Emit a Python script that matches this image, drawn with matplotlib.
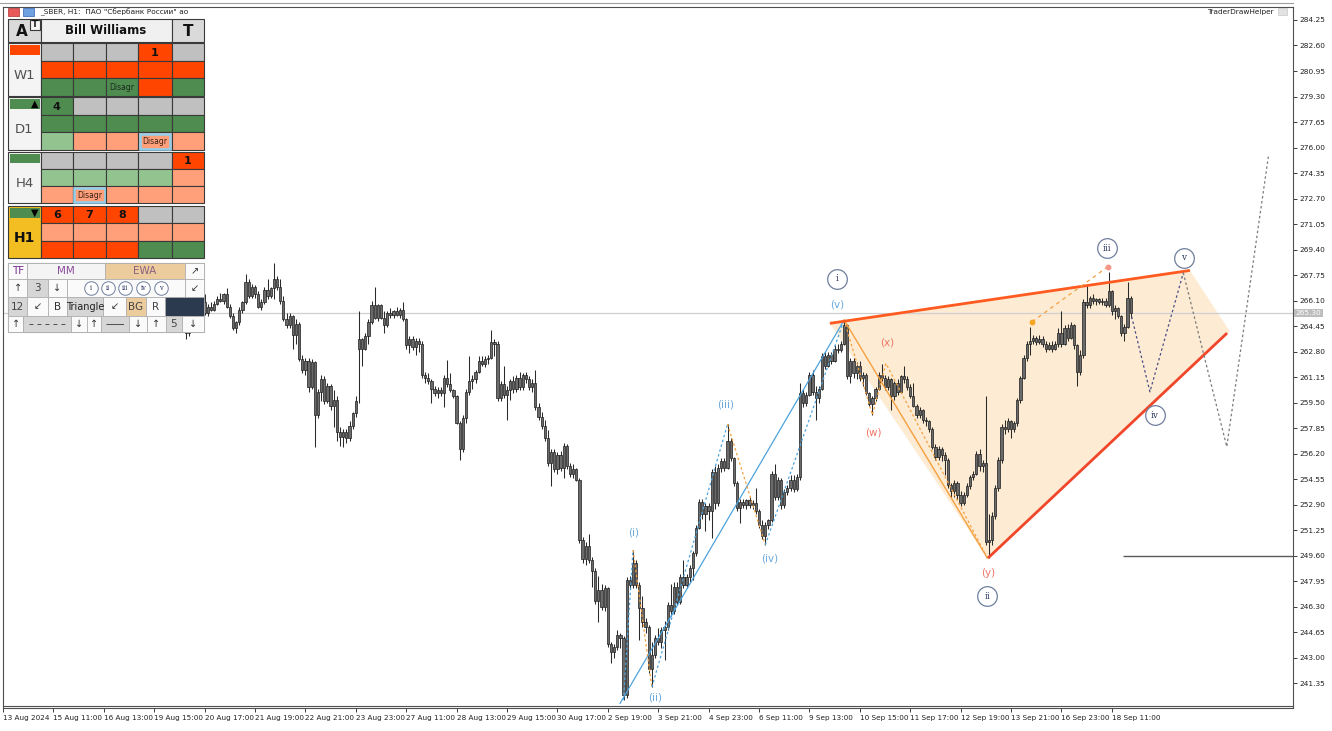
import numpy as np
import matplotlib
matplotlib.use("Agg")
import matplotlib.pyplot as plt
from matplotlib.patches import Rectangle, Polygon
import matplotlib.transforms as mtransforms

plt.rcParams['font.family'] = ['DejaVu Sans']

# ---------------- data ----------------
first_bar = 58  # bar index of first listed candle (bar 0 = 13 Aug 2024 23:00)

opens = [
    264.3, 264.0, 264.6, 265.3, 265.8, 265.6, 266.0, 265.3, 265.7, 265.5,
    265.9, 266.2, 266.1, 266.5, 265.7, 265.1, 264.3, 264.7, 265.5, 266.0,
    267.3, 266.4, 267.0, 266.5, 265.7, 266.0, 266.8, 266.4, 266.9, 267.5,
    267.0, 266.1, 264.9, 264.5, 265.1, 263.9, 264.6, 262.3, 261.6, 262.2,
    260.5, 262.1, 258.7, 260.2, 261.0, 259.6, 260.6, 259.3, 259.7, 257.6,
    257.3, 257.6, 257.2, 258.0, 258.8, 263.0, 263.6, 263.0, 263.8, 264.7,
    265.8, 265.0, 265.8, 265.0, 264.5, 265.3, 265.2, 265.4, 265.2, 265.5,
    264.9, 263.2, 263.6, 263.1, 263.5, 263.3, 261.3, 261.1, 260.9, 260.4,
    260.1, 260.3, 260.1, 261.1, 260.7, 260.3, 259.9, 258.2, 256.5, 258.5,
    260.2, 260.9, 261.0, 261.5, 262.2, 262.0, 262.3, 262.4, 263.4, 263.3,
    259.8, 260.7, 260.0, 260.3, 260.9, 260.4, 261.1, 260.5, 261.3, 261.0,
    260.5, 260.8, 259.2, 258.6, 258.0, 257.2, 255.6, 256.3, 255.2, 256.1,
    255.3, 256.7, 255.4, 254.9, 255.2, 254.5, 250.6, 249.4, 250.2, 249.3,
    248.6, 246.7, 247.4, 246.3, 247.5, 243.9, 243.4, 243.7, 244.5, 244.3,
    240.6, 248.0, 247.7, 249.1, 247.7, 246.2, 245.3, 245.0, 242.3, 243.2,
    244.3, 244.0, 244.8, 245.0, 246.4, 246.0, 247.6, 246.6, 248.2, 247.7,
    248.2, 248.8, 249.8, 251.4, 253.1, 252.3, 252.8, 252.5, 255.0, 253.0,
    255.3, 255.7, 255.3, 257.0, 255.9, 254.3, 252.7, 253.1, 252.9, 253.2,
    252.9, 253.0, 252.5, 251.6, 250.9, 251.6, 251.9, 254.9, 253.4, 254.5,
    252.9, 253.7, 254.0, 254.5, 253.9, 254.7, 260.1, 259.5, 260.0, 261.3,
    260.2, 259.8, 260.4, 262.5, 261.9, 262.6, 262.2, 263.0, 262.9, 263.3,
    264.5, 261.2, 262.2, 261.4, 261.9, 261.1, 261.3, 260.1, 259.4, 259.8,
    260.4, 261.3, 261.1, 260.5, 261.0, 259.9, 260.8, 260.2, 261.2, 261.0,
    260.5, 259.9, 259.3, 258.7, 259.0, 258.4, 258.3, 257.8, 256.6, 256.0,
    256.5, 256.1, 255.8, 254.2, 253.8, 254.3, 253.5, 253.0, 253.5, 254.1,
    254.7, 254.9, 256.2, 255.4, 255.6, 250.5, 250.6, 252.2, 254.0, 255.8,
    257.9, 257.8, 258.3, 257.8, 258.2, 259.7, 261.1, 262.4, 263.3, 263.5,
    263.7, 263.4, 263.6, 263.3, 263.0, 263.2, 263.0, 263.3, 264.0, 263.3,
    264.3, 263.7, 264.5, 263.2, 261.5, 262.6, 266.0, 265.8, 266.3, 266.1,
    266.2, 266.0, 266.1, 265.8, 266.7, 265.4, 265.6, 265.1, 264.0, 264.4, 266.3,
]
highs = [
    264.9, 264.8, 265.6, 266.0, 266.3, 266.2, 266.5, 265.9, 266.0, 266.1,
    266.4, 266.6, 266.6, 266.9, 265.9, 265.3, 264.8, 265.7, 266.1, 267.8,
    267.5, 267.2, 267.1, 266.7, 266.2, 267.0, 267.5, 267.0, 268.5, 267.7,
    267.5, 266.4, 265.3, 265.3, 265.2, 264.9, 264.7, 262.6, 262.4, 262.4,
    262.3, 262.2, 260.4, 261.3, 261.2, 260.8, 260.7, 260.3, 259.9, 257.9,
    257.8, 257.8, 258.3, 258.9, 259.95, 265.4, 263.7, 264.0, 264.9, 266.1,
    266.95, 265.9, 265.9, 265.4, 265.4, 265.6, 265.5, 265.7, 265.6, 266.03,
    265.0, 263.8, 263.8, 263.7, 263.7, 263.5, 261.5, 261.4, 261.0, 260.6,
    260.5, 260.5, 261.3, 262.25, 261.4, 260.4, 260.0, 258.3, 258.7, 260.4,
    262.5, 261.3, 261.6, 262.5, 262.5, 262.5, 262.6, 264.2, 263.6, 263.5,
    260.9, 261.9, 260.6, 261.0, 261.2, 261.3, 261.5, 261.4, 261.5, 261.2,
    261.0, 261.6, 259.5, 258.9, 258.4, 257.7, 256.5, 256.5, 256.3, 256.4,
    256.9, 256.8, 255.6, 255.5, 255.3, 254.6, 250.8, 250.5, 251.0, 249.5,
    248.8, 248.3, 247.8, 247.7, 247.6, 244.0, 243.9, 244.8, 244.6, 244.4,
    248.2, 248.3, 249.97, 249.3, 247.9, 247.0, 245.6, 245.1, 244.0, 244.5,
    244.9, 245.0, 245.4, 246.6, 247.8, 247.9, 247.9, 248.4, 249.3, 248.4,
    249.0, 249.9, 251.6, 253.3, 253.3, 253.0, 253.0, 255.2, 255.4, 255.5,
    255.9, 255.9, 258.1, 257.2, 256.0, 254.4, 253.3, 253.3, 253.3, 253.4,
    253.2, 254.0, 252.6, 251.9, 251.8, 252.0, 255.1, 255.5, 254.7, 254.6,
    253.9, 254.2, 254.8, 254.8, 254.9, 260.75, 260.4, 260.2, 261.5, 261.6,
    260.6, 260.6, 262.7, 262.8, 262.8, 262.8, 263.2, 263.3, 263.5, 264.85,
    264.6, 262.4, 262.4, 262.1, 262.2, 261.5, 261.4, 260.2, 259.9, 260.5,
    261.5, 262.0, 261.3, 261.2, 261.1, 260.9, 261.0, 261.3, 261.9, 261.2,
    260.7, 260.8, 259.4, 259.2, 259.1, 258.6, 258.4, 257.9, 256.8, 256.7,
    256.6, 256.3, 255.9, 254.3, 254.5, 254.4, 253.8, 253.7, 254.3, 254.8,
    255.1, 256.4, 256.5, 255.8, 259.9, 252.3, 252.4, 254.2, 256.0, 258.1,
    258.4, 258.5, 258.4, 258.3, 259.8, 261.2, 262.6, 263.5, 264.4, 263.9,
    263.8, 263.9, 263.8, 263.5, 263.4, 263.5, 263.5, 264.3, 265.4, 264.5,
    264.6, 264.7, 264.6, 263.3, 262.9, 266.2, 267.1, 266.4, 266.5, 266.3,
    266.3, 266.3, 266.3, 267.97, 266.8, 265.8, 265.7, 265.2, 264.6, 267.3, 266.4,
]
lows = [
    263.6, 263.8, 264.4, 265.0, 265.4, 265.2, 265.2, 265.1, 265.4, 265.4,
    265.8, 266.0, 265.9, 265.6, 265.0, 264.2, 264.0, 264.5, 265.3, 265.9,
    266.3, 266.3, 266.3, 265.6, 265.5, 265.9, 266.2, 266.3, 266.2, 266.8,
    265.9, 264.8, 264.3, 264.3, 263.0, 263.3, 262.2, 261.4, 261.3, 260.2,
    260.4, 256.6, 258.5, 259.6, 259.4, 259.5, 259.0, 257.9, 257.0, 256.7,
    256.65, 256.9, 257.0, 257.8, 258.6, 259.5, 261.85, 262.9, 263.3, 264.6,
    264.9, 264.8, 264.9, 264.0, 264.4, 265.0, 265.0, 265.1, 265.0, 264.8,
    263.0, 262.7, 262.9, 262.6, 262.8, 261.1, 260.8, 260.7, 259.5, 259.9,
    259.8, 259.9, 259.2, 260.5, 260.2, 259.8, 258.1, 255.8, 256.3, 258.2,
    260.0, 260.4, 260.8, 261.4, 261.9, 261.8, 262.0, 262.3, 262.5, 259.6,
    259.6, 259.8, 258.4, 259.7, 260.1, 260.2, 260.3, 260.3, 260.8, 260.3,
    260.2, 259.0, 258.4, 257.8, 257.0, 255.4, 254.1, 255.0, 254.9, 255.1,
    254.6, 255.2, 254.7, 254.6, 254.4, 250.4, 249.1, 249.0, 249.1, 247.6,
    246.5, 245.3, 246.1, 246.0, 243.7, 242.65, 243.0, 243.5, 243.6, 240.27,
    240.4, 247.5, 247.5, 247.5, 244.15, 245.0, 244.6, 242.0, 241.1, 243.0,
    243.8, 243.6, 242.85, 244.8, 245.7, 245.8, 246.4, 246.5, 247.5, 247.5,
    247.9, 248.0, 249.6, 251.3, 252.0, 251.2, 251.9, 250.75, 252.6, 252.8,
    255.0, 255.1, 255.2, 255.7, 254.1, 252.5, 251.7, 252.7, 252.6, 252.7,
    252.6, 252.3, 251.4, 250.7, 250.3, 251.3, 251.8, 253.2, 253.2, 252.6,
    252.7, 253.5, 253.8, 253.7, 253.8, 254.5, 259.2, 259.3, 259.9, 260.0,
    258.4, 259.5, 260.3, 261.7, 261.8, 262.0, 262.1, 262.7, 262.8, 263.2,
    261.0, 260.8, 261.1, 261.0, 260.9, 260.6, 260.0, 259.3, 258.7, 259.6,
    260.3, 260.9, 260.3, 260.3, 259.0, 259.7, 260.0, 260.1, 260.8, 260.3,
    259.8, 259.2, 258.5, 258.5, 258.2, 258.0, 257.6, 256.5, 255.8, 255.8,
    255.7, 254.8, 254.0, 253.4, 253.4, 253.3, 252.8, 252.9, 253.4, 253.9,
    254.5, 254.8, 255.1, 255.0, 250.3, 249.45, 250.3, 252.0, 253.8, 255.6,
    257.5, 257.6, 257.2, 257.6, 258.0, 259.5, 261.0, 262.2, 262.6, 263.3,
    263.2, 263.3, 263.1, 262.8, 262.9, 262.8, 262.9, 263.1, 263.1, 263.2,
    263.5, 263.6, 263.0, 260.6, 261.3, 262.4, 265.6, 265.6, 265.9, 265.8,
    265.9, 265.8, 265.7, 265.7, 265.2, 264.9, 265.0, 263.8, 263.5, 264.3, 265.0,
]
closes = [
    264.0, 264.6, 265.3, 265.8, 265.6, 266.0, 265.3, 265.7, 265.5, 265.9,
    266.2, 266.1, 266.5, 265.7, 265.1, 264.3, 264.7, 265.5, 266.0, 267.3,
    266.4, 267.0, 266.5, 265.7, 266.0, 266.8, 266.4, 266.9, 267.5, 267.0,
    266.1, 264.9, 264.5, 265.1, 263.9, 264.6, 262.3, 261.6, 262.2, 260.5,
    262.1, 258.7, 260.2, 261.0, 259.6, 260.6, 259.3, 259.7, 257.6, 257.3,
    257.6, 257.2, 258.0, 258.8, 259.6, 263.6, 263.0, 263.8, 264.7, 265.8,
    265.0, 265.8, 265.0, 264.5, 265.3, 265.2, 265.4, 265.2, 265.5, 264.9,
    263.2, 263.6, 263.1, 263.5, 263.3, 261.3, 261.1, 260.9, 260.4, 260.1,
    260.3, 260.1, 261.1, 260.7, 260.3, 259.9, 258.2, 256.5, 258.5, 260.2,
    260.9, 261.0, 261.5, 262.2, 262.0, 262.3, 262.4, 263.4, 263.3, 259.8,
    260.7, 260.0, 260.3, 260.9, 260.4, 261.1, 260.5, 261.3, 261.0, 260.5,
    260.8, 259.2, 258.6, 258.0, 257.2, 255.6, 256.3, 255.2, 256.1, 255.3,
    256.7, 255.4, 254.9, 255.2, 254.5, 250.6, 249.4, 250.2, 249.3, 248.6,
    246.7, 247.4, 246.3, 247.5, 243.9, 243.4, 243.7, 244.5, 244.3, 240.6,
    248.0, 247.7, 249.1, 247.7, 246.2, 245.3, 245.0, 242.3, 243.2, 244.3,
    244.0, 244.8, 245.0, 246.4, 246.0, 247.6, 246.6, 248.2, 247.7, 248.2,
    248.8, 249.8, 251.4, 253.1, 252.3, 252.8, 252.5, 255.0, 253.0, 255.3,
    255.7, 255.3, 257.0, 255.9, 254.3, 252.7, 253.1, 252.9, 253.2, 252.9,
    253.0, 252.5, 251.6, 250.9, 251.6, 251.9, 254.9, 253.4, 254.5, 252.9,
    253.7, 254.0, 254.5, 253.9, 254.7, 260.1, 259.5, 260.0, 261.3, 260.2,
    259.8, 260.4, 262.5, 261.9, 262.6, 262.2, 263.0, 262.9, 263.3, 264.5,
    261.2, 262.2, 261.4, 261.9, 261.1, 261.3, 260.1, 259.4, 259.8, 260.4,
    261.3, 261.1, 260.5, 261.0, 259.9, 260.8, 260.2, 261.2, 261.0, 260.5,
    259.9, 259.3, 258.7, 259.0, 258.4, 258.3, 257.8, 256.6, 256.0, 256.5,
    256.1, 255.8, 254.2, 253.8, 254.3, 253.5, 253.0, 253.5, 254.1, 254.7,
    254.9, 256.2, 255.4, 255.6, 250.5, 250.6, 252.2, 254.0, 255.8, 257.9,
    257.8, 258.3, 257.8, 258.2, 259.7, 261.1, 262.4, 263.3, 263.5, 263.7,
    263.4, 263.6, 263.3, 263.0, 263.2, 263.0, 263.3, 264.0, 263.3, 264.3,
    263.7, 264.5, 263.2, 261.5, 262.6, 266.0, 265.8, 266.3, 266.1, 266.2,
    266.0, 266.1, 265.8, 266.7, 265.4, 265.6, 265.1, 264.0, 264.4, 266.3, 265.3,
]

# x-axis labels every 16 hourly bars
xtick_labels = ["13 Aug 2024", "15 Aug 11:00", "16 Aug 13:00", "19 Aug 15:00", "20 Aug 17:00",
                "21 Aug 19:00", "22 Aug 21:00", "23 Aug 23:00", "27 Aug 11:00", "28 Aug 13:00",
                "29 Aug 15:00", "30 Aug 17:00", "2 Sep 19:00", "3 Sep 21:00", "4 Sep 23:00",
                "6 Sep 11:00", "9 Sep 13:00", "10 Sep 15:00", "11 Sep 17:00", "12 Sep 19:00",
                "13 Sep 21:00", "16 Sep 23:00", "18 Sep 11:00"]
ytick_values = [284.25, 282.60, 280.95, 279.30, 277.65, 276.00, 274.35, 272.70, 271.05,
                269.40, 267.75, 266.10, 264.45, 262.80, 261.15, 259.50, 257.85, 256.20,
                254.55, 252.90, 251.25, 249.60, 247.95, 246.30, 244.65, 243.00, 241.35]
current_price = 265.30
level_line = 249.60

# wave pivots (bar index, price)
minor_x = [197, 200, 206, 230, 242, 267]
minor_y = [240.27, 249.97, 241.1, 258.1, 250.3, 264.85]
minor_names = ["(i)", "(ii)", "(iii)", "(iv)", "(v)"]
wxy_x = [267, 276, 280.3, 312.5]
wxy_y = [264.85, 258.7, 262.04, 249.45]
wxy_names = ["(w)", "(x)", "(y)"]
base_x = [195.9, 266.9]
base_y = [240.05, 264.8]
tri_x = [262.5, 376.8, 389.5, 312.5]
tri_y = [264.63, 268.05, 264.1, 249.45]
upper_x = [262.5, 376.8]
upper_y = [264.63, 268.05]
lower_x = [312.7, 388.6]
lower_y = [249.45, 264.0]
iii_x = [326.7, 350.8]
iii_y = [264.73, 268.3]
proj1_x = [358.3, 364.1, 374.7]
proj1_y = [265.06, 260.2, 267.9]
proj2_x = [374.7, 388.5, 401.7]
proj2_y = [267.9, 256.65, 275.41]
major_names = ["i", "ii", "iii", "iv", "v"]
major_lab_x = [264.8, 312.4, 350.5, 365.7, 374.9]
major_lab_y = [267.5, 246.99, 269.5, 258.7, 268.86]

# ---------------- figure ----------------
W, H = 1332, 731
fig = plt.figure(figsize=(W / 100, H / 100), dpi=100)
fig.patch.set_facecolor('white')
L_PX, R_PX, T_PX, B_PX = 3, 1293, 7, 708
ax = fig.add_axes([L_PX / W, 1 - B_PX / H, (R_PX - L_PX) / W, (B_PX - T_PX) / H])
ax.set_xlim(0, (R_PX - L_PX) / 3.15)
ax.set_ylim(239.75, 285.09)

# triangle fill
ax.add_patch(Polygon(list(zip(tri_x, tri_y)), closed=True, fc='#FDEBD3', ec='none', zorder=1))

# price lines
ax.axhline(current_price, color='#CFCFCF', lw=0.9, zorder=2)
ax.hlines(level_line, 355.6, 420, color='#5A5A5A', lw=1.0, zorder=2)

# candles
idx = np.arange(first_bar, first_bar + len(closes))
o = np.array(opens); h = np.array(highs); l = np.array(lows); c = np.array(closes)
ax.vlines(idx, l, h, color='#2a2a2a', lw=0.75, zorder=3)
bot = np.minimum(o, c)
hgt = np.maximum(np.abs(c - o), 0.06)
ax.bar(idx, hgt, bottom=bot, width=0.72, color='#6a6a6a', edgecolor='#1c1c1c', lw=0.5, zorder=4)

# wave lines
BLUE = '#4DA3DD'
ORANGE = '#F5A040'
ax.plot(base_x, base_y, color=BLUE, lw=0.9, zorder=5)
for k in range(5):
    col = BLUE if k % 2 == 0 else ORANGE
    ax.plot(minor_x[k:k + 2], minor_y[k:k + 2], color=col, lw=0.9, ls=(0, (2, 2)), zorder=5)
ax.plot(wxy_x, wxy_y, color=ORANGE, lw=0.9, ls=(0, (2, 2)), zorder=5)
ax.plot([wxy_x[0], wxy_x[-1]], [wxy_y[0], wxy_y[-1]], color=ORANGE, lw=1.0, zorder=5)
ax.plot(upper_x, upper_y, color='#FF5A1F', lw=2.0, zorder=5, solid_capstyle='butt')
ax.plot(lower_x, lower_y, color='#F0462A', lw=2.0, zorder=5, solid_capstyle='butt')
ax.plot(iii_x, iii_y, color=ORANGE, lw=0.9, ls=(0, (3, 3)), zorder=5)
ax.plot(iii_x[0], iii_y[0], 'o', ms=3.2, color='#F5A623', zorder=6)
ax.plot(iii_x[1], iii_y[1], 'o', ms=3.2, color='#F5958A', zorder=6)
ax.plot(proj1_x, proj1_y, color='#4A4F86', lw=0.9, ls=(0, (2, 2)), zorder=5)
ax.plot(proj2_x, proj2_y, color='#7A7A7A', lw=0.9, ls=(0, (2, 2)), zorder=5)

# wave labels
minor_lab_x = [200.3, 207.0, 229.5, 243.5, 264.8]
minor_lab_y = [251.07, 240.46, 259.35, 249.45, 265.82]
for s, x, y in zip(minor_names, minor_lab_x, minor_lab_y):
    ax.text(x, y, s, color='#6AA8DC', fontsize=7.5, ha='center', va='center', zorder=7)
wxy_lab_x = [276.2, 280.6, 312.7]
wxy_lab_y = [257.6, 263.36, 248.48]
for s, x, y in zip(wxy_names, wxy_lab_x, wxy_lab_y):
    ax.text(x, y, s, color='#F07566', fontsize=7.5, ha='center', va='center', zorder=7)
ax.scatter(major_lab_x, major_lab_y, s=200, facecolors='white', edgecolors='#6F7F9C', lw=0.9, zorder=7)
for s, x, y in zip(major_names, major_lab_x, major_lab_y):
    ax.text(x, y, s, color='#2E3B63', fontsize=6.5, family='DejaVu Serif', ha='center', va='center', zorder=8)

# axes styling
for sp in ['left', 'top', 'right', 'bottom']:
    ax.spines[sp].set_color('#505050')
    ax.spines[sp].set_linewidth(0.8)
ax.yaxis.tick_right()
ax.set_yticks(ytick_values)
ax.set_yticklabels([f"{v:.2f}" for v in ytick_values])
ax.tick_params(axis='y', direction='out', length=3, width=0.6, labelsize=5.3, pad=1.5, colors='#202020')
ax.set_xticks(np.arange(0, 16 * len(xtick_labels), 16))
ax.set_xticklabels(xtick_labels)
for lbl in ax.get_xticklabels():
    lbl.set_ha('left')
ax.tick_params(axis='x', direction='out', length=3, width=0.6, labelsize=5.2, pad=2, colors='#202020')

trans = mtransforms.blended_transform_factory(ax.transAxes, ax.transData)
ax.text(1.002, current_price, "265.30", transform=trans, fontsize=5.3, color='white', ha='left', va='center',
        bbox=dict(boxstyle='square,pad=0.2', fc='#BDBDBD', ec='none'), zorder=9, clip_on=False)

# ---------------- overlay (pixel coordinates) ----------------
ov = fig.add_axes([0, 0, 1, 1], zorder=10)
ov.set_xlim(0, W)
ov.set_ylim(H, 0)
ov.axis('off')
ov.patch.set_alpha(0)

ov.plot([L_PX, R_PX], [705.5, 705.5], color='#505050', lw=0.8)
ov.plot([0, R_PX], [2.5, 2.5], color='#A0A0A0', lw=0.8)

# title + icons
ov.add_patch(Rectangle((8, 8), 11, 8, fc='#E85A5A', ec='#B03030', lw=0.5))
ov.add_patch(Rectangle((23, 8), 11, 8, fc='#6FA0E0', ec='#3060B0', lw=0.5))
ov.text(40, 12, '_SBER, H1:  ПАО "Сбербанк России" ао', fontsize=5.3, ha='left', va='center', color='#202020')
ov.text(1274, 12, 'TraderDrawHelper', fontsize=5.3, ha='right', va='center', color='#202020')
ov.add_patch(Rectangle((1278, 8), 9, 7, fc='#E2E2E2', ec='#C8C8C8', lw=0.5))

CMAP = {'gray': '#C0C0C0', 'red': '#FF4500', 'green': '#4E8C50', 'lgreen': '#93C48F', 'salmon': '#FFA07A'}
EDGE = '#3A3A3A'
col_edges = [40.7, 72.7, 106.0, 138.3, 171.7, 204.0]


def cell(x0, y0, x1, y1, fc, ec=EDGE, lw=0.8):
    ov.add_patch(Rectangle((x0, y0), x1 - x0, y1 - y0, fc=fc, ec=ec, lw=lw))


def txt(x, y, s, size=7, weight='normal', color='#202020', family=None):
    kw = dict(fontsize=size, fontweight=weight, color=color, ha='center', va='center')
    if family:
        kw['family'] = family
    ov.text(x, y, s, **kw)


# header
cell(8.3, 18.5, 40.7, 41.5, '#DADADA')
txt(22, 31, 'A', 11, 'bold', '#111111')
cell(30, 19.5, 40, 29.5, '#F4F4F4')
txt(35, 24.5, 'T', 6, 'bold', '#111111')
cell(40.7, 18.5, 171.7, 41.5, '#F0F0F0')
txt(106, 31, 'Bill Williams', 8.5, 'bold', '#111111')
cell(171.7, 18.5, 204, 41.5, '#DADADA')
txt(188, 31, 'T', 11, 'bold', '#111111')

blocks = [
    dict(top=43.3, bot=96.0, label='W1', lbg='#F4F4F4', bar='#FF4500', arrow='',
         colors=[['gray', 'gray', 'gray', 'red', 'gray'], ['red'] * 5, ['green', 'green', 'green', 'red', 'green']],
         texts=[['', '', '', '1', ''], [''] * 5, ['', '', 'Disagr', '', '']], hl=[]),
    dict(top=97.3, bot=150.0, label='D1', lbg='#F4F4F4', bar='#4E8C50', arrow='▲',
         colors=[['green', 'gray', 'gray', 'gray', 'gray'], ['green'] * 5, ['lgreen', 'salmon', 'salmon', 'salmon', 'salmon']],
         texts=[['4', '', '', '', ''], [''] * 5, ['', '', '', 'Disagr', '']], hl=[(2, 3)]),
    dict(top=151.7, bot=203.3, label='H4', lbg='#F4F4F4', bar='#4E8C50', arrow='',
         colors=[['gray'] * 4 + ['red'], ['lgreen'] * 4 + ['salmon'], ['salmon'] * 5],
         texts=[['', '', '', '', '1'], [''] * 5, ['', 'Disagr', '', '', '']], hl=[(2, 1)]),
    dict(top=206.0, bot=258.3, label='H1', lbg='#F2BE22', bar='#4E8C50', arrow='▼',
         colors=[['red', 'red', 'red', 'gray', 'gray'], ['salmon'] * 5, ['red', 'red', 'red', 'green', 'green']],
         texts=[['6', '7', '8', '', ''], [''] * 5, [''] * 5], hl=[]),
]
for b in blocks:
    top, bt = b['top'], b['bot']
    rh = (bt - top) / 3
    cell(8.3, top, 40.7, bt, b['lbg'])
    ov.add_patch(Rectangle((10, top + 2), 29.5, 9.5, fc=b['bar'], ec='none'))
    if b['arrow']:
        txt(35, top + 6.8, b['arrow'], 7, 'normal', '#000000')
    bold = b['label'] == 'H1'
    txt(24.5, top + 32, b['label'], 10 if bold else 9.5, 'bold' if bold else 'normal',
        '#111111' if bold else '#505050')
    for r in range(3):
        for k in range(5):
            x0, x1 = col_edges[k], col_edges[k + 1]
            y0, y1 = top + r * rh, top + (r + 1) * rh
            cell(x0, y0, x1, y1, CMAP[b['colors'][r][k]])
            if (r, k) in b['hl']:
                ov.add_patch(Rectangle((x0 + 1.5, y0 + 1.5), x1 - x0 - 3, y1 - y0 - 3, fc='none', ec='#8FD0EE', lw=1.8))
            s = b['texts'][r][k]
            if s == 'Disagr':
                txt((x0 + x1) / 2, (y0 + y1) / 2 + 0.5, s, 5.5, 'normal', '#3A2018' if (r, k) in b['hl'] else '#1E2A1E')
            elif s:
                txt((x0 + x1) / 2, (y0 + y1) / 2 + 0.5, s, 8, 'bold', '#111111')

# control panel
W_, G_, T_, N_ = '#FAFAFA', '#D6D6D6', '#ECCB9C', '#2B3A4E'
rowsA = [(8.3, 27.3, W_, 'TF', '#7A2E8E'), (27.3, 105, '#F4F4F4', 'MM', '#8A4A9A'),
         (105, 185, T_, 'EWA', '#8A6080'), (185, 204, W_, '↗', '#333333')]
rowsB = [(8.3, 27.3, W_, '↑', '#333333'), (27.3, 47.7, G_, '3', '#444444'), (47.7, 66.7, W_, '↓', '#333333'),
         (66.7, 185, W_, '', '#333333'), (185, 204, W_, '↙', '#333333')]
rowsC = [(8.3, 27.3, G_, '12', '#444444'), (27.3, 47.7, W_, '↙', '#333333'), (47.7, 66.7, W_, 'B', '#333333'),
         (66.7, 103.3, G_, 'Triangle', '#222222'), (103.3, 126, W_, '↙', '#333333'), (126, 145.7, T_, 'BG', '#444444'),
         (145.7, 165, W_, 'R', '#444444'), (165, 204, N_, '', '#ffffff')]
rowsD = [(8.3, 23.3, W_, '↑', '#333333'), (23.3, 70.7, G_, '– – – – –', '#333333'), (70.7, 86.7, W_, '↓', '#333333'),
         (86.7, 101, W_, '↑', '#333333'), (101, 129.3, G_, '——', '#333333'), (129.3, 146.7, W_, '↓', '#333333'),
         (146.7, 165.7, W_, '↑', '#333333'), (165.7, 181.7, G_, '5', '#444444'), (181.7, 204, W_, '↓', '#333333')]
cell(8.3, 263.3, 204, 331.7, 'none', '#9A9A9A', 0.8)
for (y0, y1, row) in [(263.3, 279.0, rowsA), (279.0, 297.0, rowsB), (297.0, 315.7, rowsC), (315.7, 331.7, rowsD)]:
    for (x0, x1, fc, s, tc) in row:
        cell(x0, y0, x1, y1, fc, '#B0B0B0', 0.6)
        if s:
            size = 7.5 if s in ('TF', 'MM', 'EWA', '3', '12', 'B', 'BG', 'R', '5') else 7
            if s == 'Triangle':
                size = 7
            txt((x0 + x1) / 2, (y0 + y1) / 2 + 0.3, s, size, 'normal', tc)

circ_x = [90.7, 107.7, 125.0, 143.3, 160.7]
ov.scatter(circ_x, [288] * 5, s=95, facecolors='white', edgecolors='#6F7F9C', lw=0.7, zorder=11)
for s, x in zip(major_names, circ_x):
    ov.text(x, 288, s, fontsize=4.8, family='DejaVu Serif', color='#2E3B63', ha='center', va='center', zorder=12)

fig.savefig('out.png', dpi=100, facecolor='white')
